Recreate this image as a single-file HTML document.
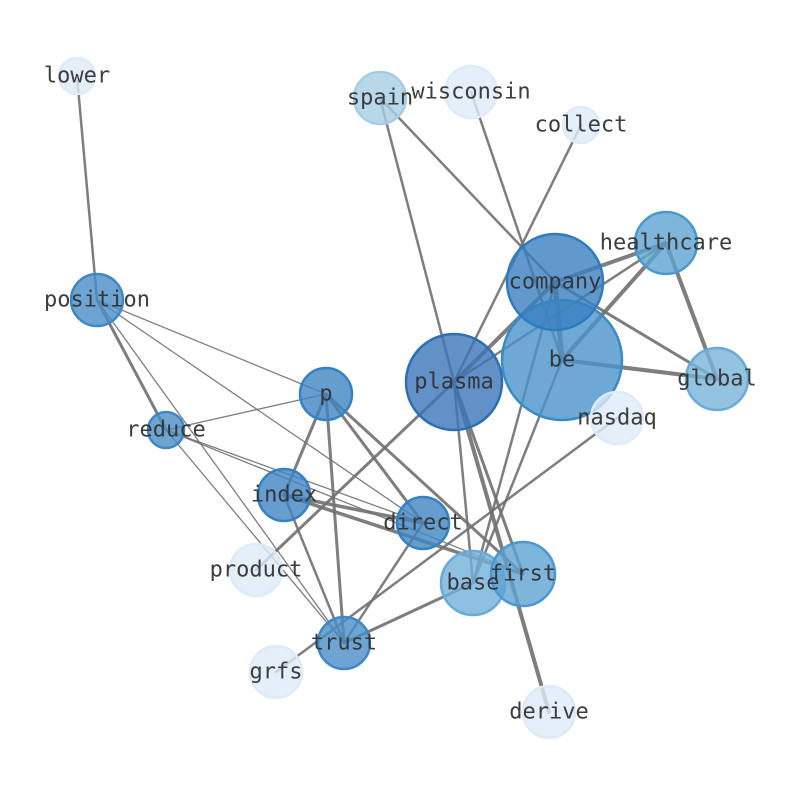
<!DOCTYPE html>
<html><head><meta charset="utf-8"><style>body{margin:0;background:#fff}svg{display:block}</style></head>
<body>
<svg width="794" height="790" viewBox="0 0 794 790" xmlns="http://www.w3.org/2000/svg">
<g stroke="#707070" stroke-opacity="0.9" stroke-linecap="round">
<line x1="77" y1="76" x2="97" y2="300" stroke-width="2.5"/>
<line x1="380" y1="98" x2="454" y2="382" stroke-width="2.5"/>
<line x1="380" y1="98" x2="555" y2="282" stroke-width="2.5"/>
<line x1="471" y1="92" x2="562" y2="360" stroke-width="2.5"/>
<line x1="581" y1="125" x2="454" y2="382" stroke-width="2.5"/>
<line x1="666" y1="243" x2="555" y2="282" stroke-width="4"/>
<line x1="666" y1="243" x2="454" y2="382" stroke-width="2.5"/>
<line x1="666" y1="243" x2="562" y2="360" stroke-width="4"/>
<line x1="666" y1="243" x2="717" y2="379" stroke-width="4"/>
<line x1="555" y1="282" x2="717" y2="379" stroke-width="3"/>
<line x1="555" y1="282" x2="562" y2="360" stroke-width="5"/>
<line x1="562" y1="360" x2="717" y2="379" stroke-width="4"/>
<line x1="555" y1="282" x2="454" y2="382" stroke-width="4"/>
<line x1="555" y1="282" x2="473" y2="583" stroke-width="2.5"/>
<line x1="562" y1="360" x2="473" y2="583" stroke-width="2.5"/>
<line x1="454" y1="382" x2="473" y2="583" stroke-width="2.5"/>
<line x1="454" y1="382" x2="523" y2="574" stroke-width="3"/>
<line x1="454" y1="382" x2="549" y2="712" stroke-width="4"/>
<line x1="454" y1="382" x2="256" y2="570" stroke-width="3"/>
<line x1="617" y1="418" x2="276" y2="672" stroke-width="2.5"/>
<line x1="97" y1="300" x2="326" y2="394" stroke-width="1.3"/>
<line x1="97" y1="300" x2="166" y2="430" stroke-width="3"/>
<line x1="97" y1="300" x2="423" y2="523" stroke-width="1.3"/>
<line x1="97" y1="300" x2="344" y2="643" stroke-width="1.3"/>
<line x1="166" y1="430" x2="326" y2="394" stroke-width="1.3"/>
<line x1="166" y1="430" x2="423" y2="523" stroke-width="1.3"/>
<line x1="166" y1="430" x2="523" y2="574" stroke-width="1.3"/>
<line x1="166" y1="430" x2="344" y2="643" stroke-width="1.3"/>
<line x1="326" y1="394" x2="284" y2="495" stroke-width="3"/>
<line x1="326" y1="394" x2="344" y2="643" stroke-width="3"/>
<line x1="326" y1="394" x2="423" y2="523" stroke-width="3"/>
<line x1="326" y1="394" x2="523" y2="574" stroke-width="3"/>
<line x1="284" y1="495" x2="423" y2="523" stroke-width="3.5"/>
<line x1="284" y1="495" x2="523" y2="574" stroke-width="3.5"/>
<line x1="284" y1="495" x2="344" y2="643" stroke-width="2.5"/>
<line x1="423" y1="523" x2="344" y2="643" stroke-width="2.5"/>
<line x1="344" y1="643" x2="473" y2="583" stroke-width="3"/>
</g>
<g stroke-width="2.5">
<circle cx="77" cy="76" r="18" fill="#deebf7" fill-opacity="0.8" stroke="#deebf7"/>
<circle cx="380" cy="98" r="26" fill="#a6cde3" fill-opacity="0.8" stroke="#a6cde3"/>
<circle cx="471" cy="92" r="26" fill="#deebf7" fill-opacity="0.8" stroke="#deebf7"/>
<circle cx="581" cy="125" r="18" fill="#deebf7" fill-opacity="0.8" stroke="#deebf7"/>
<circle cx="666" cy="243" r="31" fill="#5ea3d2" fill-opacity="0.8" stroke="#4a98cf"/>
<circle cx="562" cy="360" r="60" fill="#4a93ca" fill-opacity="0.8" stroke="#3a8ac6"/>
<circle cx="555" cy="282" r="48" fill="#3a80c0" fill-opacity="0.8" stroke="#2f7bbf"/>
<circle cx="454" cy="382" r="48" fill="#3a76b8" fill-opacity="0.8" stroke="#2e6fb3"/>
<circle cx="717" cy="379" r="31" fill="#79b4db" fill-opacity="0.8" stroke="#6aaad8"/>
<circle cx="617" cy="418" r="26" fill="#deebf7" fill-opacity="0.8" stroke="#deebf7"/>
<circle cx="97" cy="300" r="26" fill="#4a8dc6" fill-opacity="0.8" stroke="#3f88c5"/>
<circle cx="326" cy="394" r="26" fill="#3f84c2" fill-opacity="0.8" stroke="#3581c1"/>
<circle cx="166" cy="430" r="18" fill="#4a8dc6" fill-opacity="0.8" stroke="#3f88c5"/>
<circle cx="284" cy="495" r="26" fill="#3f84c2" fill-opacity="0.8" stroke="#3581c1"/>
<circle cx="423" cy="523" r="26" fill="#3f84c2" fill-opacity="0.8" stroke="#3581c1"/>
<circle cx="256" cy="570" r="26" fill="#deebf7" fill-opacity="0.8" stroke="#deebf7"/>
<circle cx="473" cy="583" r="32" fill="#72b0d9" fill-opacity="0.8" stroke="#6aaad8"/>
<circle cx="523" cy="574" r="32" fill="#5ea3d2" fill-opacity="0.8" stroke="#4a98cf"/>
<circle cx="344" cy="643" r="26" fill="#4a8dc6" fill-opacity="0.8" stroke="#3f88c5"/>
<circle cx="276" cy="672" r="26" fill="#deebf7" fill-opacity="0.8" stroke="#deebf7"/>
<circle cx="549" cy="712" r="26" fill="#deebf7" fill-opacity="0.8" stroke="#deebf7"/>
</g>
<g font-family="DejaVu Sans Mono, Liberation Mono, monospace" font-size="22" fill="#333" fill-opacity="0.95" text-anchor="middle" dominant-baseline="central">
<text x="77" y="76">lower</text>
<text x="380" y="98">spain</text>
<text x="471" y="92">wisconsin</text>
<text x="581" y="125">collect</text>
<text x="666" y="243">healthcare</text>
<text x="555" y="282">company</text>
<text x="562" y="360">be</text>
<text x="454" y="382">plasma</text>
<text x="717" y="379">global</text>
<text x="617" y="418">nasdaq</text>
<text x="97" y="300">position</text>
<text x="326" y="394">p</text>
<text x="166" y="430">reduce</text>
<text x="284" y="495">index</text>
<text x="423" y="523">direct</text>
<text x="256" y="570">product</text>
<text x="473" y="583">base</text>
<text x="523" y="574">first</text>
<text x="344" y="643">trust</text>
<text x="276" y="672">grfs</text>
<text x="549" y="712">derive</text>
</g>
</svg>
</body></html>
